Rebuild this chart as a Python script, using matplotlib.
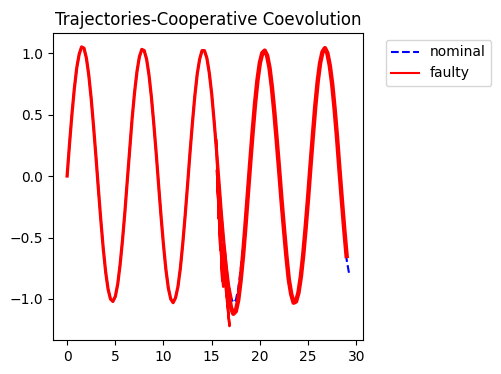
import matplotlib
matplotlib.use("Agg")
import matplotlib.pyplot as plt
import numpy as np

dt = 0.25
nominal = [
    0.00, 0.26, 0.50, 0.71, 0.88, 0.99, 1.05, 1.04, 0.96, 0.82, 0.63, 0.40, 0.15,
    -0.11, -0.36, -0.59, -0.78, -0.92, -1.00, -1.02, -0.98, -0.88, -0.72, -0.52, -0.29, -0.03,
    0.22, 0.47, 0.68, 0.85, 0.97, 1.03, 1.02, 0.95, 0.82, 0.64, 0.42, 0.18,
    -0.08, -0.33, -0.56, -0.76, -0.91, -1.00, -1.03, -0.99, -0.90, -0.75, -0.55, -0.32, -0.07,
    0.19, 0.43, 0.65, 0.83, 0.95, 1.02, 1.02, 0.96, 0.84, 0.67, 0.45, 0.21,
    -0.04, -0.30, -0.53, -0.73, -0.89, -0.99, -1.03, -1.01, -0.92, -0.77, -0.58, -0.35, -0.10,
    0.15, 0.40, 0.62, 0.81, 0.94, 1.01, 1.02, 0.97, 0.86, 0.70, 0.49, 0.25, 0.01,
    -0.24, -0.47, -0.68, -0.87, -0.98, -1.03, -1.01, -0.93, -0.79, -0.61, -0.38, -0.14,
    0.12, 0.37, 0.60, 0.79, 0.93, 1.01, 1.03, 0.99, 0.88, 0.72, 0.52, 0.28, 0.02,
    -0.23, -0.47, -0.68, -0.79,
]
t_nom = np.arange(len(nominal)) * dt

# faulty run 1: follows nominal until shortly after the fault (~t=17)
n_pre = 69
# erratic strands right after the fault
glitch_x = [15.50, 15.45, 15.55, 15.75, 15.55, 15.90, 15.70, 16.10, 15.85, 16.20,
            16.00, 16.85, 16.45, 16.25]
glitch_y = [0.21, 0.30, 0.12, -0.35, 0.05, -0.60, -0.15, -0.85, -0.40, -0.90,
            -0.55, -1.22, -0.85, -0.60]
# faulty run 2 after the fault (starts at t=16.25)
post_t0 = 16.25
faulty_post = [
    -0.60, -0.80, -0.96, -1.07, -1.12, -1.10, -1.01, -0.85, -0.65, -0.41, -0.15,
    0.11, 0.36, 0.59, 0.78, 0.92, 1.00, 1.02, 0.98, 0.88, 0.72, 0.52, 0.29, 0.05,
    -0.20, -0.43, -0.65, -0.84, -0.96, -1.03, -1.02, -0.95, -0.82, -0.64, -0.42, -0.18,
    0.08, 0.33, 0.57, 0.77, 0.92, 1.01, 1.04, 1.00, 0.90, 0.75, 0.55, 0.32, 0.06,
    -0.19, -0.43, -0.65,
]
t_post = post_t0 + np.arange(len(faulty_post)) * dt

fig = plt.figure(figsize=(5.01, 3.74), dpi=100)
ax = fig.add_axes([0.1058, 0.0909, 0.619, 0.8209])

ax.plot(t_nom, nominal, 'b--', linewidth=1.5, label='nominal')
ax.plot(t_nom[:n_pre], nominal[:n_pre], 'r-', linewidth=2.3, label='faulty')
ax.plot(glitch_x, glitch_y, 'r-', linewidth=1.8)
ax.plot(t_post, faulty_post, 'r-', linewidth=3.2)

ax.set_title('Trajectories-Cooperative Coevolution')
leg = ax.legend(bbox_to_anchor=(1.05, 1), loc='upper left')
for line in leg.get_lines():
    line.set_linewidth(1.5)

plt.savefig('out.png', dpi=100)
plt.close()
